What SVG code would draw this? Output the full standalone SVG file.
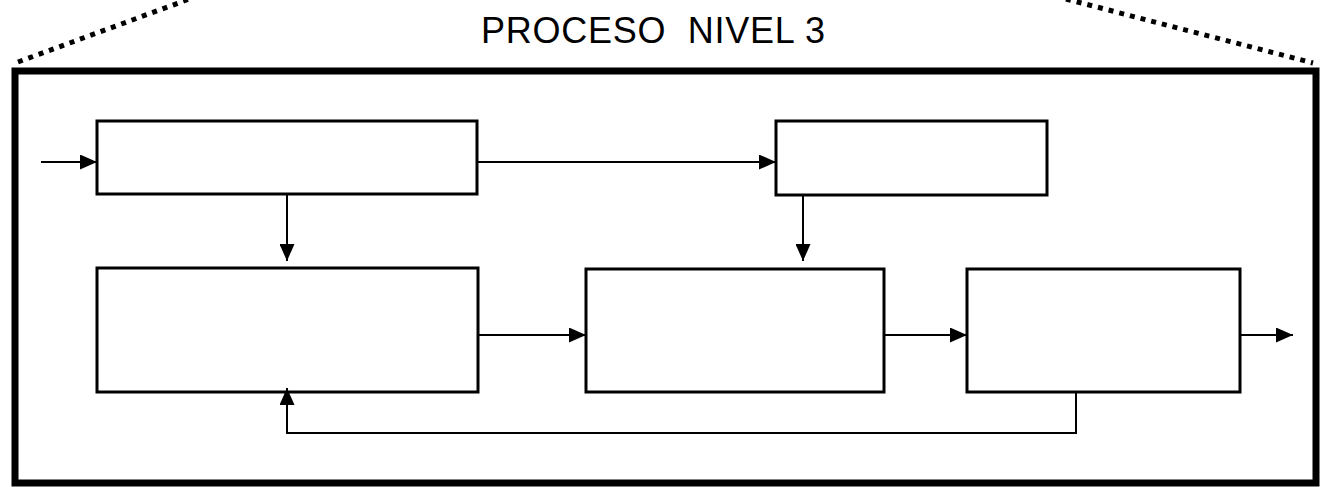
<svg xmlns="http://www.w3.org/2000/svg" width="1327" height="487" viewBox="0 0 1327 487">
<style>
.box{fill:#fff;stroke:#000;stroke-width:3}
.con{fill:none;stroke:#000;stroke-width:2}
.dot{fill:none;stroke:#000;stroke-width:5;stroke-dasharray:5 6}
.title{font-family:"Liberation Sans",Arial,sans-serif;font-size:36px;fill:#000}
</style>
<defs>
<marker id="ah" viewBox="0 0 17 15" refX="17" refY="7.5" markerWidth="17" markerHeight="15" markerUnits="userSpaceOnUse" orient="auto">
<path d="M0,0 L17,7.5 L0,15 Z" fill="#000"/>
</marker>
</defs>
<g id="frame">
<line class="dot" x1="18" y1="62" x2="192" y2="-2"/>
<line class="dot" x1="1066" y1="-1" x2="1313" y2="63"/>
<rect x="15" y="71" width="1301" height="412" fill="none" stroke="#000" stroke-width="7"/>
<text class="title" x="481" y="43" textLength="344" lengthAdjust="spacing" xml:space="preserve">PROCESO  NIVEL 3</text>
</g>
<g id="nodeA"><rect class="box" x="97" y="121" width="380" height="73"/></g>
<g id="nodeB"><rect class="box" x="776" y="121" width="271" height="74"/></g>
<g id="nodeC"><rect class="box" x="97" y="268" width="381" height="124"/></g>
<g id="nodeD"><rect class="box" x="586" y="269" width="298" height="123"/></g>
<g id="nodeE"><rect class="box" x="967" y="269" width="273" height="123"/></g>
<g id="connectors">
<line class="con" x1="41" y1="162" x2="97" y2="162" marker-end="url(#ah)"/>
<line class="con" x1="477" y1="162" x2="776" y2="162" marker-end="url(#ah)"/>
<line class="con" x1="287" y1="194" x2="287" y2="261" marker-end="url(#ah)"/>
<line class="con" x1="803" y1="195" x2="803" y2="261" marker-end="url(#ah)"/>
<line class="con" x1="478" y1="335" x2="586" y2="335" marker-end="url(#ah)"/>
<line class="con" x1="884" y1="335" x2="967" y2="335" marker-end="url(#ah)"/>
<line class="con" x1="1240" y1="335" x2="1293" y2="335" marker-end="url(#ah)"/>
<polyline class="con" points="1076,392 1076,433 287,433 287,388" marker-end="url(#ah)"/>
</g>
</svg>
